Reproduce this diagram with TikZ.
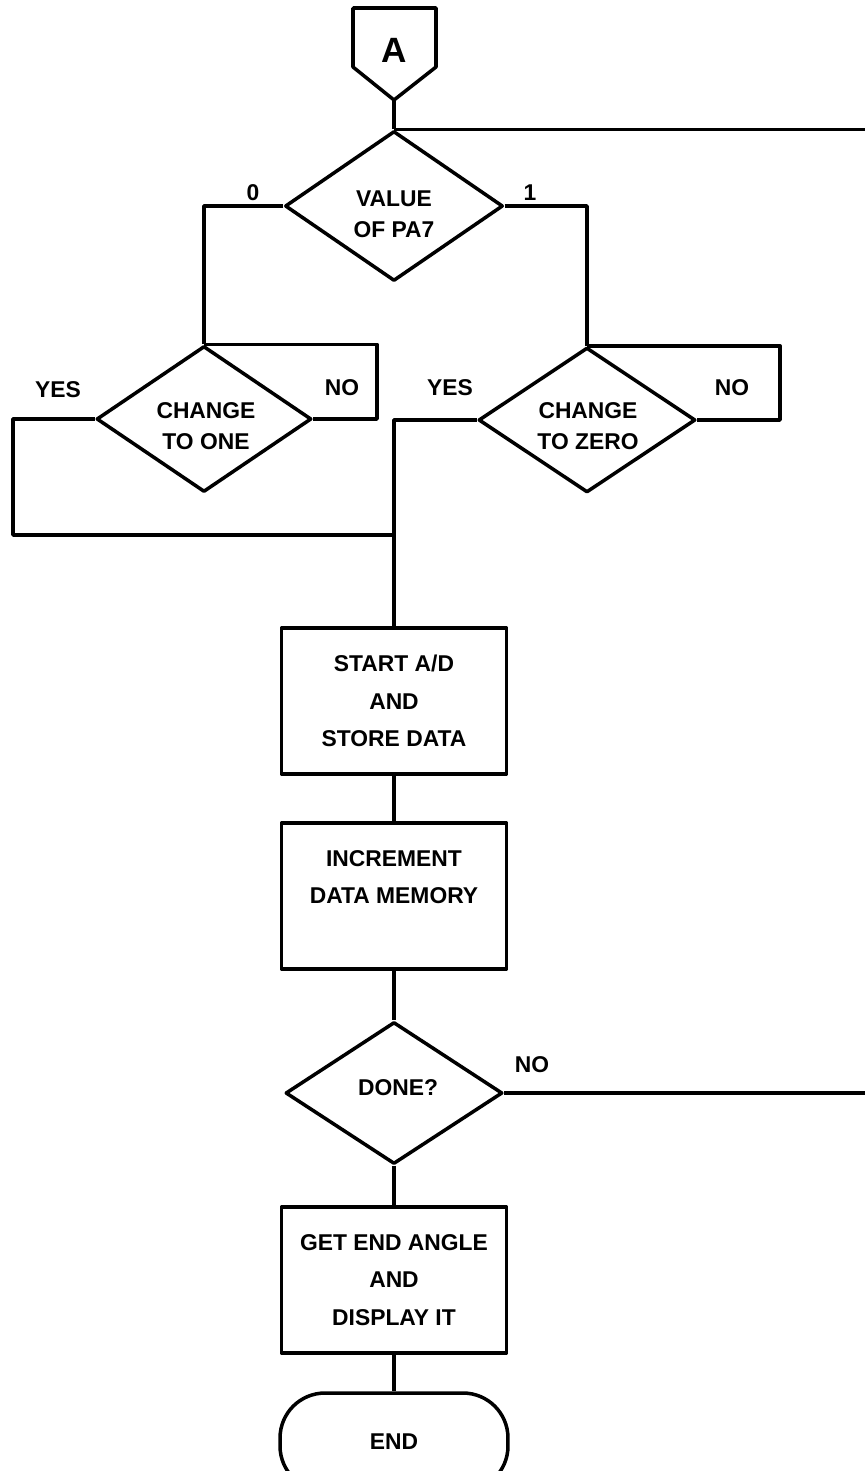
\documentclass[tikz,border=0pt]{standalone}
\usepackage{fontspec}
\setmainfont{Liberation Sans}
\usetikzlibrary{shapes.geometric}
\begin{document}
\begin{tikzpicture}[x=0.02cm,y=-0.02cm, line width=2pt, line join=round,
  lbl/.style={font=\fontsize{13}{15}\selectfont\bfseries, inner sep=0},
  txt/.style={font=\fontsize{13}{17.6}\selectfont\bfseries, align=center, inner sep=0},
  dia/.style={draw, diamond, inner sep=0},
  procbox/.style={draw, rectangle, minimum width=4.5cm, minimum height=2.92cm, align=center,
    font=\fontsize{13}{21.5}\selectfont\bfseries, inner sep=0},
  termbox/.style={draw, rectangle, rounded corners=0.9cm, minimum width=4.56cm, minimum height=1.96cm,
    font=\fontsize{13}{15}\selectfont\bfseries}
]
\useasboundingbox (0,0) rectangle (865,1471);
\clip (0,0) rectangle (865,1471);

% off-page connector A
\draw (353,8) -- (436,8) -- (436,67) -- (394,100) -- (353,67) -- cycle;
\node[font=\fontsize{20}{22}\selectfont\bfseries, inner sep=0] (A) at (394,50) {A};
\coordinate (Abot) at (394,100);

% decisions
\node[dia, minimum width=4.36cm, minimum height=3cm] (v) at (394,206) {};
\node[txt] (vt) at (394,214) {VALUE\\OF PA7};
\node[dia, minimum width=4.3cm, minimum height=2.92cm] (one) at (204,419) {};
\node[txt] (onet) at (206,426) {CHANGE\\TO ONE};
\node[dia, minimum width=4.34cm, minimum height=2.9cm] (zero) at (587,420) {};
\node[txt] (zerot) at (588,426) {CHANGE\\TO ZERO};

% process boxes
\node[procbox] (sad) at (394,701) {START A/D\\AND\\STORE DATA};
\node[procbox] (inc) at (394,896) {INCREMENT\\DATA MEMORY\\\mbox{}};
\node[dia, minimum width=4.34cm, minimum height=2.84cm] (done) at (394,1093) {};
\node[txt] (donet) at (398,1088) {DONE?};
\node[procbox] (get) at (394,1280) {GET END ANGLE\\AND\\DISPLAY IT};
\node[termbox] (end) at (394,1442) {END};

% labels
\node[lbl] (l0) at (253,193) {0};
\node[lbl] (l1) at (530,193) {1};
\node[lbl] (y1) at (58,390) {YES};
\node[lbl] (n1) at (342,388) {NO};
\node[lbl] (y2) at (450,388) {YES};
\node[lbl] (n2) at (732,388) {NO};
\node[lbl] (n3) at (532,1065) {NO};

% free ends / junctions
\coordinate (R) at (865,0);
\coordinate (J) at (394,535);

% connectors
\draw (Abot) -- (v.north);
\draw (v.north) -- (v.north -| R);
\draw (v.west) -| (one.north);
\draw (v.east) -| (zero.north);
\draw (one.north) -- ++(173,0) |- (one.east);
\draw (one.west) -| (13,535) -- (J);
\draw (zero.north) -- ++(193,0) |- (zero.east);
\draw (zero.west) -| (sad.north);
\draw (sad.south) -- (inc.north);
\draw (inc.south) -- (done.north);
\draw (done.east) -- (done.east -| R);
\draw (done.south) -- (get.north);
\draw (get.south) -- (end.north);
\end{tikzpicture}
\end{document}
